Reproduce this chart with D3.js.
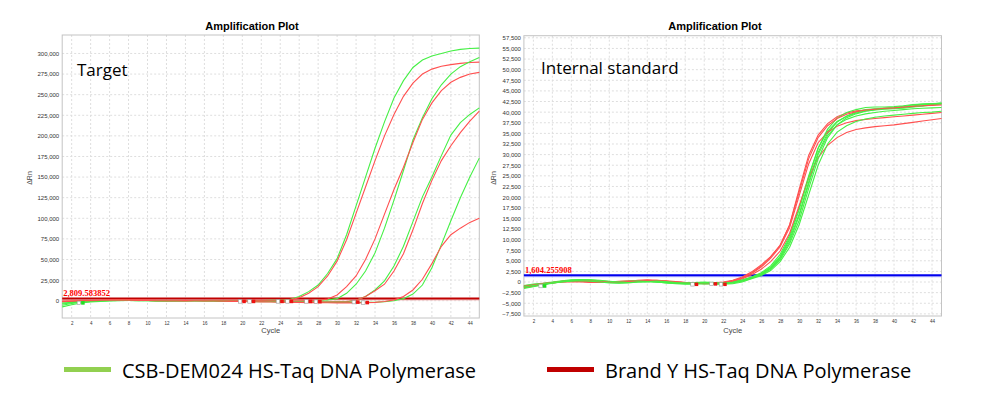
<!DOCTYPE html>
<html>
<head>
<meta charset="utf-8">
<script src="https://cdn.jsdelivr.net/npm/d3@7"></script>
<style>
  body { margin: 0; background: #fff; }
  svg { display: block; }
</style>
</head>
<body>
<svg id="chart" width="988" height="397"></svg>
<script>
// cycle numbers 1..45
const cycles = [1,2,3,4,5,6,7,8,9,10,11,12,13,14,15,16,17,18,19,20,21,22,23,24,25,26,27,28,29,30,31,32,33,34,35,36,37,38,39,40,41,42,43,44,45];

// Target, delta Rn in thousands
const targetGreen = [
  [-5.5,-3.5,-1.8,-0.8,-0.3,0.0,0.3,0.5,0.4,0.2, 0.0,-0.2,0.0,0.2,0.3,0.2,0.0,-0.2,-0.3,-0.2, 0.0,0.2,0.4,0.7,1.5,5,11,19,33,51, 80,115,150,185,217,246,267,283,292,297, 300,303,305,306,306.5],
  [-7.5,-5.0,-2.8,-1.5,-0.8,-0.3,0.0,0.2,0.3,0.2, 0.0,-0.2,-0.3,-0.2,0.0,0.1,0.0,-0.2,-0.4,-0.5, -0.6,-0.6,-0.5,-0.5,-0.4,-0.3,0.0,0.5,1.0,2.5, 9,20,36,58,88,122,158,195,222,245, 262,275,284,290,295],
  [-4.0,-2.5,-1.2,-0.5,0.0,0.3,0.4,0.3,0.1,-0.1, -0.2,-0.1,0.1,0.2,0.1,-0.1,-0.3,-0.5,-0.7,-0.8, -0.9,-1.0,-1.0,-1.1,-1.2,-1.3,-1.4,-1.5,-1.5,-1.4, -1.2,0.5,5,13,24,42,66,96,126,150, 176,201,216,226,234],
  [-3.0,-2.0,-1.0,-0.4,0.0,0.2,0.3,0.2,0.0,-0.1, -0.2,-0.1,0.0,0.1,0.0,-0.2,-0.4,-0.6,-0.8,-1.0, -1.1,-1.2,-1.3,-1.4,-1.5,-1.6,-1.7,-1.8,-1.9,-2.0, -2.0,-2.1,-2.0,-1.8,-1.2,0.0,2.5,8,19,40, 68,97,125,150,173]
];
const targetRed = [
  [-1.5,-1.0,-0.5,0.0,0.5,0.8,1.0,1.2,1.0,0.7, 0.4,0.2,0.0,-0.2,-0.3,-0.2,0.0,0.1,0.0,-0.2, -0.3,-0.1,0.2,0.5,1.0,3.5,9,17,30,48, 74,106,138,170,200,226,248,264,275,281, 284.5,286.5,288,289,289.5],
  [-1.0,-0.6,-0.3,0.0,0.3,0.5,0.7,0.8,0.6,0.4, 0.2,0.0,-0.1,0.0,0.2,0.3,0.2,0.0,-0.2,-0.4, -0.5,-0.5,-0.4,-0.3,-0.3,-0.2,0.0,0.4,2.0,7, 17,30,50,75,105,135,162,192,220,240, 255,265,271,275,277],
  [-0.8,-0.5,-0.2,0.1,0.4,0.6,0.7,0.6,0.4,0.2, 0.0,-0.1,-0.1,0.0,0.2,0.3,0.2,0.0,-0.2,-0.4, -0.6,-0.8,-0.9,-1.0,-1.0,-1.1,-1.2,-1.3,-1.4,-1.3, -1.0,0.5,5,12,20,36,57,86,118,146, 170,188,204,218,230],
  [-0.5,-0.3,0.0,0.3,0.5,0.7,0.8,0.6,0.4,0.2, 0.0,-0.1,0.0,0.1,0.0,-0.2,-0.4,-0.6,-0.8,-1.0, -1.2,-1.4,-1.6,-1.8,-2.0,-2.2,-2.3,-2.4,-2.5,-2.6, -2.6,-2.6,-2.5,-2.0,-1.0,1.0,5,13,26,45, 66,80,88,95,100]
];

// Internal standard, delta Rn in thousands
const internalGreen = [
  [-1.2,-0.8,-0.4,-0.1,0.2,0.4,0.5,0.4,0.2,0.0, -0.1,0.0,0.2,0.3,0.2,0.0,-0.2,-0.3,-0.3,-0.2, -0.3,-0.3,-0.1,0.4,1.2,2.2,3.8,6.5,11.0,17.5, 25.0,31.5,35.5,37.8,39.0,39.8,40.3,40.6,40.9,41.1, 41.4,41.7,41.9,42.0,42.1],
  [-1.4,-1.0,-0.6,-0.2,0.1,0.3,0.4,0.3,0.1,-0.1, -0.2,-0.1,0.1,0.2,0.1,-0.1,-0.3,-0.4,-0.4,-0.3, -0.4,-0.4,-0.2,0.3,1.0,1.9,3.3,5.8,10.0,16.0, 23.5,30.5,35.0,37.7,39.1,40.0,40.6,40.8,40.9,41.0, 41.2,41.5,41.7,41.9,42.2],
  [-0.8,-0.5,-0.3,0.0,0.3,0.5,0.6,0.5,0.3,0.1, 0.0,0.1,0.2,0.2,0.0,-0.2,-0.3,-0.3,-0.2,-0.1, -0.2,-0.3,-0.2,0.2,0.9,1.7,3.0,5.2,9.0,14.5, 22.0,29.0,34.0,37.0,38.7,39.6,40.2,40.5,40.7,40.8, 40.9,41.2,41.4,41.7,41.9],
  [-1.0,-0.7,-0.4,-0.1,0.2,0.4,0.4,0.3,0.2,0.1, 0.1,0.2,0.3,0.2,0.0,-0.1,-0.2,-0.2,-0.1,0.0, -0.1,-0.2,0.0,0.5,1.1,2.0,3.5,6.0,10.5,17.0, 24.5,31.5,36.0,38.6,39.9,40.6,41.1,41.2,41.2,41.3, 41.5,41.8,41.9,42.0,42.0],
  [-1.5,-1.1,-0.7,-0.3,0.0,0.2,0.3,0.2,0.0,-0.2, -0.3,-0.2,0.0,0.1,0.0,-0.2,-0.4,-0.5,-0.5,-0.4, -0.5,-0.5,-0.4,0.0,0.8,1.5,2.7,4.8,8.2,13.5, 20.5,27.5,32.5,35.3,36.8,37.8,38.4,38.8,39.1,39.3, 39.5,39.7,39.9,40.0,40.2],
  [-1.1,-0.8,-0.5,-0.2,0.1,0.3,0.5,0.5,0.4,0.2, 0.0,-0.1,0.0,0.1,0.2,0.1,-0.1,-0.2,-0.2,-0.1, -0.2,-0.2,-0.1,0.3,1.0,1.8,3.2,5.5,9.5,15.5, 23.0,30.0,34.5,37.0,38.3,39.1,39.6,39.9,40.2,40.4, 40.6,40.8,40.9,41.0,41.1]
];
const internalRed = [
  [-0.9,-0.6,-0.3,-0.1,0.1,0.2,0.2,0.1,0.0,0.0, 0.1,0.2,0.3,0.4,0.3,0.2,0.0,-0.2,-0.3,-0.3, -0.2,0.0,0.4,1.2,2.4,4.0,6.0,8.6,13.5,21.8, 29.8,34.6,37.3,38.9,39.8,40.3,40.5,40.7,40.8,40.9, 41.1,41.3,41.5,41.8,42.0],
  [-1.3,-0.9,-0.5,-0.2,0.0,0.1,0.0,-0.1,-0.1,0.0, 0.2,0.3,0.3,0.2,0.1,0.1,0.0,-0.1,-0.2,-0.3, -0.3,-0.2,0.1,0.7,1.7,3.0,4.8,7.3,11.5,18.0, 24.5,29.3,32.2,34.0,35.2,35.9,36.3,36.6,36.8,37.0, 37.3,37.6,37.9,38.2,38.5],
  [-1.1,-0.7,-0.4,-0.1,0.2,0.3,0.2,0.0,-0.1,0.0, 0.1,0.2,0.4,0.5,0.4,0.2,0.0,-0.1,-0.2,-0.4, -0.4,-0.2,0.2,0.9,2.0,3.5,5.6,8.3,12.8,20.3, 27.8,32.8,35.3,36.7,37.5,38.0,38.3,38.5,38.7,38.9, 39.1,39.3,39.5,39.7,39.9],
  [-1.0,-0.7,-0.4,-0.2,0.0,0.2,0.3,0.3,0.2,0.1, 0.0,0.1,0.2,0.3,0.4,0.3,0.1,-0.1,-0.3,-0.4, -0.3,-0.1,0.3,1.0,2.2,3.7,5.9,8.7,13.4,21.2, 29.0,34.0,36.8,38.5,39.5,40.1,40.5,40.7,40.9,41.0, 41.2,41.4,41.5,41.6,41.7]
];

const targetThreshold = 2809.583852;
const internalThreshold = 1604.255908;

const targetTicks = d3.range(0, 300001, 25000);
const internalTicks = d3.range(-7500, 57501, 2500);
const cycleTicks = d3.range(2, 45, 2);

// baseline markers (cycle, value in thousands, which series)
const targetMarkCycles = [3, 20, 21, 24, 25, 27, 28, 32, 33];
const targetMarkValues = [-3.0, -1.2, -1.2, -1.2, -1.2, -1.2, -1.5, -2.0, -2.6];
const targetMarkSeries = ['g', 'r', 'r', 'r', 'r', 'r', 'r', 'r', 'r'];
const internalMarkCycles = [3, 19, 21, 22];
const internalMarkValues = [-1.0, -0.6, -0.5, -0.6];
const internalMarkSeries = ['g', 'r', 'r', 'r'];

const legendLabels = ['CSB-DEM024 HS-Taq DNA Polymerase', 'Brand Y HS-Taq DNA Polymerase'];
const legendColors = ['#92d050', '#c00000'];

const GREEN = '#45f045';
const RED = '#ff5050';

const svg = d3.select('#chart');
svg.append('rect').attr('width', 988).attr('height', 397).attr('fill', '#fff');

function drawPanel(p) {
    const x = d3.scaleLinear().domain([1, 45]).range([p.left, p.right]);
    const y = d3.scaleLinear().domain(p.yDomain).range([p.bottom, p.top]);
    const g = svg.append('g');

    // dashed grid
    g.append('g').selectAll('line').data(cycleTicks).join('line')
        .attr('x1', d => x(d)).attr('x2', d => x(d))
        .attr('y1', p.top).attr('y2', p.bottom)
        .attr('stroke', '#dedede').attr('stroke-dasharray', '2,2');
    g.append('g').selectAll('line').data(p.yTicks).join('line')
        .attr('x1', p.left).attr('x2', p.right)
        .attr('y1', d => y(d)).attr('y2', d => y(d))
        .attr('stroke', '#dedede').attr('stroke-dasharray', '2,2');

    // axes, labels only
    const yAxis = g.append('g')
        .attr('transform', `translate(${p.left},0)`)
        .call(d3.axisLeft(y).tickValues(p.yTicks).tickSize(0).tickPadding(3).tickFormat(d3.format(',')));
    yAxis.select('.domain').remove();
    yAxis.selectAll('text').attr('font-family', 'Liberation Sans, Arial, sans-serif')
        .attr('font-size', 6).attr('fill', '#333');

    const xAxis = g.append('g')
        .attr('transform', `translate(0,${p.bottom})`)
        .call(d3.axisBottom(x).tickValues(cycleTicks).tickSize(0).tickPadding(4));
    xAxis.select('.domain').remove();
    xAxis.selectAll('text').attr('font-family', 'Liberation Sans, Arial, sans-serif')
        .attr('font-size', 4.5).attr('fill', '#333');

    // plot frame
    g.append('rect')
        .attr('x', p.left).attr('y', p.top)
        .attr('width', p.right - p.left).attr('height', p.bottom - p.top)
        .attr('fill', 'none').attr('stroke', '#c4c4c4');

    // threshold
    g.append('line')
        .attr('x1', p.left).attr('x2', p.right)
        .attr('y1', y(p.threshold) + 1.5).attr('y2', y(p.threshold) + 1.5)
        .attr('stroke', p.thresholdLight).attr('stroke-width', 1);
    g.append('line')
        .attr('x1', p.left).attr('x2', p.right)
        .attr('y1', y(p.threshold)).attr('y2', y(p.threshold))
        .attr('stroke', p.thresholdColor).attr('stroke-width', 2);

    // amplification curves
    const line = d3.line()
        .x((d, i) => x(cycles[i]))
        .y(d => y(d * 1000));
    const curves = [];
    p.green.forEach((s, i) => {
        curves.push({values: s, color: GREEN});
        if (p.red[i]) curves.push({values: p.red[i], color: RED});
    });
    g.append('g').selectAll('path').data(curves).join('path')
        .attr('d', d => line(d.values))
        .attr('fill', 'none')
        .attr('stroke', d => d.color)
        .attr('stroke-width', 1.1);

    // baseline markers
    const marks = g.append('g').selectAll('g').data(p.markCycles).join('g')
        .attr('transform', (d, i) => `translate(${x(d)},${y(p.markValues[i] * 1000)})`);
    marks.append('rect')
        .attr('x', -4).attr('y', -2).attr('width', 3.5).attr('height', 3.5)
        .attr('fill', '#fff').attr('stroke', '#999').attr('stroke-width', 0.6);
    marks.append('rect')
        .attr('x', 0).attr('y', -2).attr('width', 3.5).attr('height', 3.5)
        .attr('fill', (d, i) => p.markSeries[i] === 'g' ? '#22dd22' : '#ee1111');

    // threshold label
    g.append('text')
        .attr('x', p.left + 1).attr('y', y(p.threshold) - 2)
        .attr('font-family', 'Liberation Serif, Times New Roman, serif')
        .attr('font-size', 8.5).attr('font-weight', 'bold')
        .attr('fill', '#ff0000')
        .text(d3.format(',.6f')(p.threshold));

    // titles
    g.append('text')
        .attr('x', p.titleX).attr('y', 30)
        .attr('text-anchor', 'middle')
        .attr('font-family', 'Liberation Sans, Arial, sans-serif')
        .attr('font-size', 11).attr('font-weight', 'bold')
        .text('Amplification Plot');
    g.append('text')
        .attr('x', (p.left + p.right) / 2).attr('y', 333)
        .attr('text-anchor', 'middle')
        .attr('font-family', 'Liberation Sans, Arial, sans-serif')
        .attr('font-size', 7.5).attr('fill', '#444')
        .text('Cycle');
    g.append('text')
        .attr('transform', `translate(${p.yLabelX},178) rotate(-90)`)
        .attr('text-anchor', 'middle')
        .attr('font-family', 'Liberation Sans, Arial, sans-serif')
        .attr('font-size', 7).attr('fill', '#444')
        .text('\u0394Rn');
    g.append('text')
        .attr('x', p.nameX).attr('y', p.nameY)
        .attr('font-family', 'Open Sans, Noto Sans, sans-serif')
        .attr('font-size', 17).attr('fill', '#000')
        .text(p.name);
}

drawPanel({
    left: 62.2, right: 479.3, top: 35, bottom: 318,
    yDomain: [-21000, 322400], yTicks: targetTicks,
    green: targetGreen, red: targetRed,
    threshold: targetThreshold, thresholdColor: '#c00000', thresholdLight: '#f3b0b0',
    markCycles: targetMarkCycles, markValues: targetMarkValues, markSeries: targetMarkSeries,
    titleX: 252, yLabelX: 32, name: 'Target', nameX: 77, nameY: 76
});

drawPanel({
    left: 523.9, right: 941.5, top: 35.7, bottom: 316,
    yDomain: [-8000, 58000], yTicks: internalTicks,
    green: internalGreen, red: internalRed,
    threshold: internalThreshold, thresholdColor: '#0000ee', thresholdLight: '#b0b0ff',
    markCycles: internalMarkCycles, markValues: internalMarkValues, markSeries: internalMarkSeries,
    titleX: 715, yLabelX: 496, name: 'Internal standard', nameX: 541, nameY: 74
});

// legend
const legendX = [64, 547];
const legend = svg.append('g').selectAll('g').data(legendLabels).join('g')
    .attr('transform', (d, i) => `translate(${legendX[i]},0)`);
legend.append('line')
    .attr('x1', 0).attr('x2', 47)
    .attr('y1', 369.5).attr('y2', 369.5)
    .attr('stroke', (d, i) => legendColors[i]).attr('stroke-width', 5);
legend.append('text')
    .attr('x', 58).attr('y', 378)
    .attr('font-family', 'Open Sans, Noto Sans, sans-serif')
    .attr('font-size', 20).attr('fill', '#000')
    .text(d => d);
</script>
</body>
</html>
